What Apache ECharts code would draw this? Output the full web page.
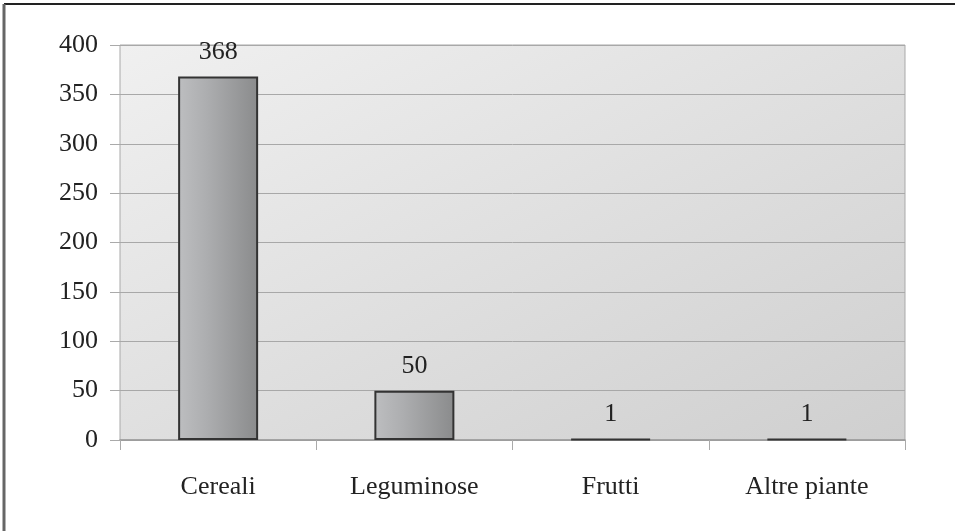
<!DOCTYPE html>
<html>
<head>
<meta charset="utf-8">
<script src="https://cdn.jsdelivr.net/npm/echarts@6/dist/echarts.min.js"></script>
<style>
  html, body { margin: 0; padding: 0; background: #fff; }
  #chart { width: 955px; height: 531px; }
</style>
</head>
<body>
<div id="chart"></div>
<script>
const categories = ['Cereali', 'Leguminose', 'Frutti', 'Altre piante'];
const values = [368, 50, 1, 1];
const yTicks = [0, 50, 100, 150, 200, 250, 300, 350, 400];

const chart = echarts.init(document.getElementById('chart'));
const font = '"Liberation Serif", "Times New Roman", serif';

chart.setOption({
  animation: false,
  backgroundColor: '#ffffff',
  graphic: [
    { type: 'line', shape: { x1: 4, y1: 4, x2: 955, y2: 4 }, style: { stroke: '#222', lineWidth: 2 }, z: 100 },
    { type: 'line', shape: { x1: 4, y1: 4, x2: 4, y2: 531 }, style: { stroke: '#666', lineWidth: 3 }, z: 100 }
  ],
  grid: {
    left: 120, right: 50, top: 45, bottom: 91,
    show: true,
    borderColor: '#a9a9a9',
    borderWidth: 1,
    backgroundColor: {
      type: 'linear', x: 120, y: 45, x2: 437, y2: 675, global: true,
      colorStops: [
        { offset: 0, color: '#f0f0f0' },
        { offset: 1, color: '#cfcfcf' }
      ]
    }
  },
  xAxis: {
    type: 'category',
    data: categories,
    axisLine: { lineStyle: { color: '#999', width: 1.5 } },
    axisTick: { show: true, length: 10, lineStyle: { color: '#aaa' } },
    axisLabel: { fontFamily: font, fontSize: 26, color: '#222', margin: 34 }
  },
  yAxis: {
    type: 'value',
    min: yTicks[0],
    max: yTicks[yTicks.length - 1],
    interval: 50,
    axisLine: { show: false },
    axisTick: { show: true, inside: false, length: 10, lineStyle: { color: '#aaa' } },
    splitLine: { lineStyle: { color: '#a8a8a8', width: 1 } },
    axisLabel: { fontFamily: font, fontSize: 26, color: '#222', margin: 22 }
  },
  series: [{
    type: 'bar',
    data: values,
    barWidth: 80,
    itemStyle: {
      borderColor: '#333',
      borderWidth: 2,
      color: {
        type: 'linear', x: 0, y: 0, x2: 1, y2: 0,
        colorStops: [
          { offset: 0, color: '#bdbec0' },
          { offset: 0.35, color: '#adaeb0' },
          { offset: 1, color: '#8a8b8c' }
        ]
      }
    },
    label: {
      show: true,
      position: 'top',
      distance: 11,
      fontFamily: font,
      fontSize: 26,
      color: '#222'
    }
  }]
});
</script>
</body>
</html>
